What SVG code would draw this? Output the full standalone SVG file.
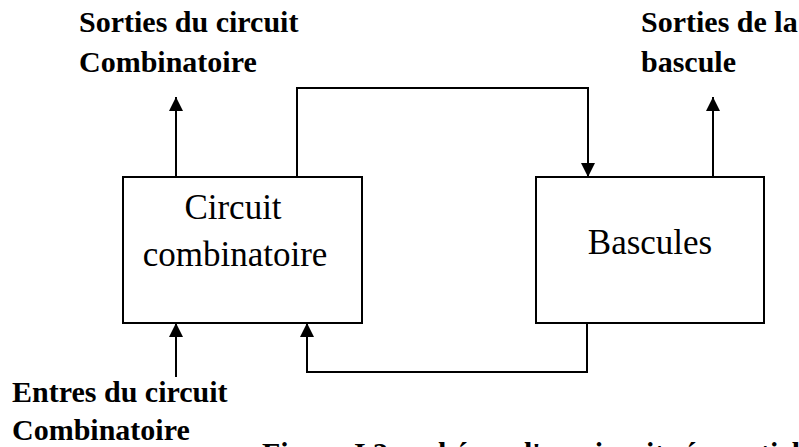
<svg xmlns="http://www.w3.org/2000/svg" width="799" height="447" viewBox="0 0 799 447">
<style>
.box{fill:#fff;stroke:#000;stroke-width:2}
.ln{fill:none;stroke:#000;stroke-width:2}
.lbl{font-family:"Liberation Serif","Times New Roman",serif;font-weight:bold;font-size:30px;fill:#000}
.nt{font-family:"Liberation Serif","Times New Roman",serif;font-size:35px;fill:#000}
</style>
<defs>
<marker id="ah" viewBox="0 0 10 10" refX="10" refY="5" markerWidth="14" markerHeight="14" markerUnits="userSpaceOnUse" orient="auto">
<path d="M0,0 L10,5 L0,10 z" fill="#000"/>
</marker>
</defs>
<rect width="799" height="447" fill="#fff"/>
<g id="connectors">
<line class="ln" x1="176" y1="177" x2="176" y2="97" marker-end="url(#ah)"/>
<polyline class="ln" points="297,177 297,88 588,88 588,177" marker-end="url(#ah)"/>
<line class="ln" x1="713" y1="177" x2="713" y2="97" marker-end="url(#ah)"/>
<polyline class="ln" points="587,323 587,372 307,372 307,323" marker-end="url(#ah)"/>
<line class="ln" x1="176" y1="377" x2="176" y2="323" marker-end="url(#ah)"/>
</g>
<g id="circuit">
<rect class="box" x="123" y="177" width="239" height="146"/>
<text class="nt" x="233" y="219" text-anchor="middle">Circuit</text>
<text class="nt" x="235" y="266" text-anchor="middle">combinatoire</text>
</g>
<g id="bascules">
<rect class="box" x="536" y="177" width="228" height="146"/>
<text class="nt" x="650" y="254" text-anchor="middle">Bascules</text>
</g>
<g id="labels">
<text class="lbl" x="79" y="32">Sorties du circuit</text>
<text class="lbl" x="79" y="72">Combinatoire</text>
<text class="lbl" x="641" y="32">Sorties de la</text>
<text class="lbl" x="641" y="72">bascule</text>
<text class="lbl" x="12" y="402">Entres du circuit</text>
<text class="lbl" x="12" y="440">Combinatoire</text>
<text class="lbl" x="262" y="463">Figure I.3 : schéma d'un circuit séquentiel</text>
</g>
</svg>
